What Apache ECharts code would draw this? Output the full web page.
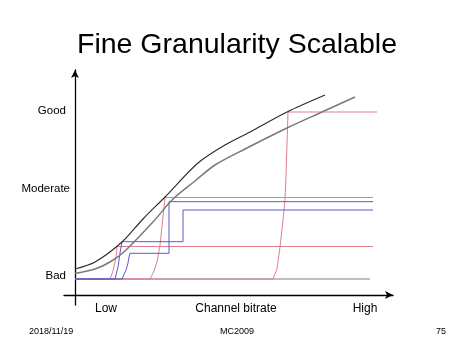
<!DOCTYPE html>
<html>
<head>
<meta charset="utf-8">
<script src="https://cdn.jsdelivr.net/npm/echarts@6/dist/echarts.min.js"></script>
<style>html,body{margin:0;padding:0;background:#fff}#c{width:474px;height:355px}</style>
</head>
<body>
<div id="c"></div>
<script>
// Units: bitrate (x) and quality (y)
const yTickValues = [19, 106, 184];
const yTickLabels = ['Bad', 'Moderate', 'Good'];
const xTickValues = [31, 161, 290];
const xTickLabels = ['Low', 'Channel bitrate', 'High'];

const upperCurve = [[0,26],[20,33],[47,53],[68,76],[90,98],[123,132],[150,150],[175,163],[212,183],[250,200]];
const lowerCurve = [[0,21.5],[20,26],[35,33],[50,44],[78,73],[98,96],[120,114],[140,130],[170,146],[212,167],[247,183],[280,198]];
const badLine = [[0,16],[295,16]];

const pink1 = [[0,16],[35,16],[38,24],[40,33],[41.5,41],[42,48.5],[298,48.5]];
const pink2 = [[0,16],[75,16],[79,24],[82,33],[85,50],[88,78],[90,97.5],[298,97.5]];
const pink3 = [[0,16],[198,16],[202,26],[205,48],[208,75],[210,95],[211,120],[213,183],[302,183]];

const blue1 = [[0,16],[40,16],[43,28],[45,42],[47,53.3],[108,53.3],[108,85],[298,85]];
const blue2 = [[0,16],[47,16],[51,25],[53,32],[54,38],[55,41.7],[94,41.7],[94,93.3],[298,93.3]];

const FONT = 'Liberation Sans, Arial, Helvetica, sans-serif';
const chart = echarts.init(document.getElementById('c'), null, {renderer: 'canvas'});

function ln(data, color, width, smooth, z) {
  return {type: 'line', data: data, showSymbol: false, symbol: 'none', smooth: smooth || false,
    silent: true, z: z || 2, lineStyle: {color: color, width: width}};
}

chart.setOption({
  animation: false,
  backgroundColor: '#fff',
  title: [
    {text: 'Fine Granularity Scalable', left: 'center', top: 31, padding: 0,
     textStyle: {fontFamily: FONT, fontSize: 28.5, fontWeight: 'normal', color: '#000'}},
    {text: '2018/11/19', left: 29, top: 327, padding: 0,
     textStyle: {fontFamily: FONT, fontSize: 9, fontWeight: 'normal', color: '#000'}},
    {text: 'MC2009', left: 'center', top: 327, padding: 0,
     textStyle: {fontFamily: FONT, fontSize: 9, fontWeight: 'normal', color: '#000'}},
    {text: '75', right: 28, top: 327, padding: 0,
     textStyle: {fontFamily: FONT, fontSize: 9, fontWeight: 'normal', color: '#000'}}
  ],
  grid: {left: 64, right: 81, top: 70, bottom: 50, containLabel: false, outerBoundsMode: 'none'},
  xAxis: {
    type: 'value', min: -11, max: 318,
    splitLine: {show: false}, axisTick: {show: false},
    axisLine: {onZero: true, symbol: ['none', 'arrow'], symbolSize: [6, 8],
      lineStyle: {color: '#000', width: 1.3}},
    axisLabel: {customValues: xTickValues, margin: -2, color: '#000', fontFamily: FONT, fontSize: 12,
      formatter: function (v) { const i = xTickValues.indexOf(v); return i >= 0 ? xTickLabels[i] : ''; }}
  },
  yAxis: {
    type: 'value', min: -10, max: 225,
    splitLine: {show: false}, axisTick: {show: false},
    axisLine: {onZero: true, symbol: ['none', 'arrow'], symbolSize: [6, 8],
      lineStyle: {color: '#000', width: 1.3}},
    axisLabel: {customValues: yTickValues, margin: -6, color: '#000', fontFamily: FONT, fontSize: 11.5,
      formatter: function (v) {
        const i = yTickValues.indexOf(v);
        if (i < 0) return '';
        return yTickLabels[i] === 'Moderate' ? '{m|Moderate}' : '{p|' + yTickLabels[i] + '}';
      },
      rich: {m: {fontFamily: FONT, fontSize: 11.5, color: '#000'},
             p: {fontFamily: FONT, fontSize: 11.5, color: '#000', padding: [0, 4, 0, 0]}}}
  },
  series: [
    ln(badLine, '#808080', 1.2, false, 1),
    ln(pink3, '#e0808f', 1, false, 2),
    ln(pink2, '#e0808f', 1, false, 2),
    ln(pink1, '#e0808f', 1, false, 2),
    ln(blue1, '#5a5acc', 1, false, 3),
    ln(blue2, '#5a5acc', 1, false, 3),
    ln(lowerCurve, '#7a7a7a', 1.5, 0.3, 4),
    ln(upperCurve, '#2a2a2a', 1.1, 0.3, 4)
  ]
});
</script>
</body>
</html>
